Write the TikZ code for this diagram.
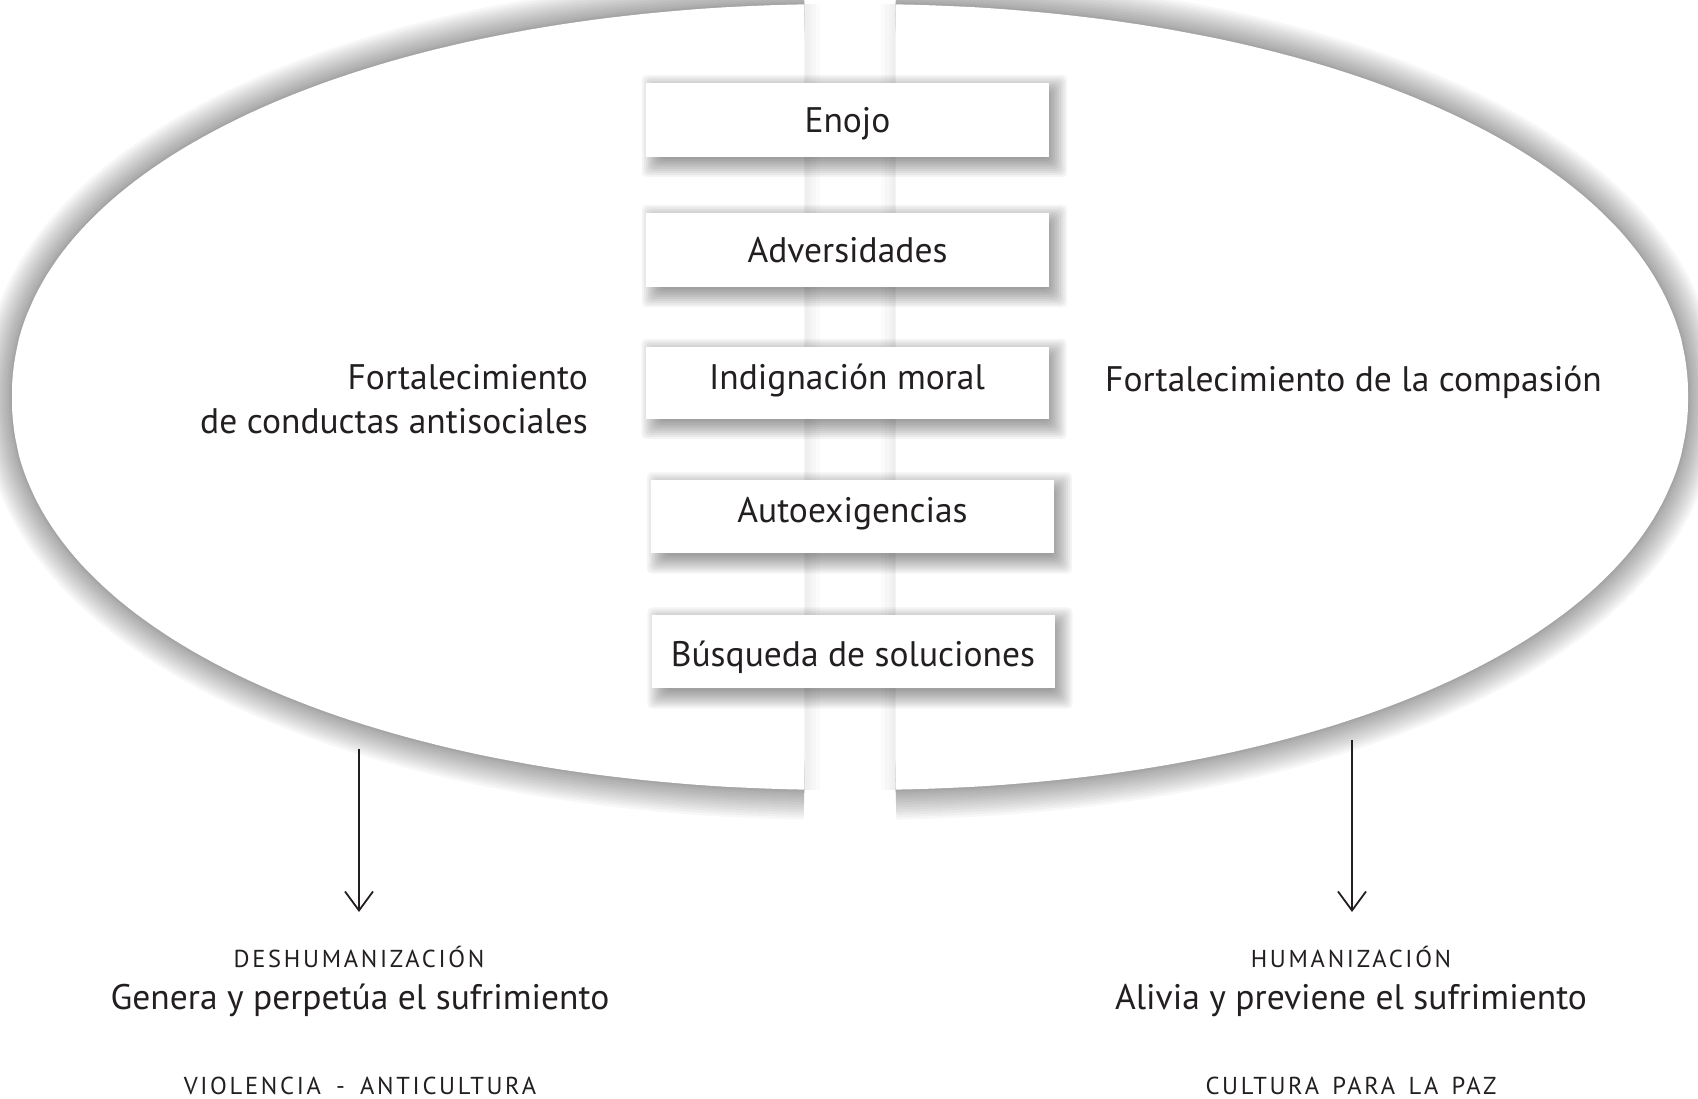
\documentclass[tikz,border=0pt]{standalone}
\usepackage{fontspec}
\setmainfont{PT Sans}
\usetikzlibrary{arrows.meta,calc}
\definecolor{ink}{HTML}{231F20}
\pgfdeclarelayer{bgl}
\pgfdeclarelayer{shl}
\pgfsetlayers{bgl,shl,main}
\begin{document}
\begin{tikzpicture}[x=1pt,y=1pt,
  every node/.style={text=ink, inner sep=0pt},
  card/.style={fill=white, minimum width=403pt, minimum height=74pt,
    font=\fontsize{35.5}{42}\selectfont, text height=30pt, text depth=4pt},
  bigtxt/.style={font=\fontsize{35.5}{42}\selectfont, anchor=base},
  captxt/.style={font=\fontsize{24.5}{30}\selectfont\addfontfeatures{LetterSpace=11}, anchor=base},
  arr/.style={draw=ink, line width=1.8pt, -{Straight Barb[length=19pt,width=28pt,line width=1.8pt]}},
  glow/.style={draw=black, opacity=0.032, line cap=butt, line join=round},
  sideglow/.style={draw=black, opacity=0.015, line cap=butt}
]
\useasboundingbox (0,0) rectangle (1698,1099);

\begin{pgfonlayer}{bgl}
\fill[white] (0,0) rectangle (1698,1099);
% glow of the two halves
\foreach \w in {60,55,50,45,40,35,30,25,20,15,10,6,3} {
  \draw[glow, line width=\w pt] plot[domain=92.69:267.31, samples=150, variable=\t]
    ({850+838*sign(cos(\t))*(abs(cos(\t))+0.0001)^0.952},
     {702+393*sign(sin(\t))*(abs(sin(\t))+0.0001)^0.952});
  \draw[glow, line width=\w pt] plot[domain=-87.31:87.31, samples=150, variable=\t]
    ({850+838*sign(cos(\t))*(abs(cos(\t))+0.0001)^0.952},
     {702+393*sign(sin(\t))*(abs(sin(\t))+0.0001)^0.952});
}
\foreach \w in {30,22,14,8} {
  \draw[sideglow, line width=\w pt] (804.5,1094.6) -- (804.5,309.4);
  \draw[sideglow, line width=\w pt] (895.5,1094.6) -- (895.5,309.4);
}
\fill[white] plot[domain=92.69:267.31, samples=150, variable=\t]
    ({850+838*sign(cos(\t))*(abs(cos(\t))+0.0001)^0.952},
     {702+393*sign(sin(\t))*(abs(sin(\t))+0.0001)^0.952}) -- cycle;
\fill[white] plot[domain=-87.31:87.31, samples=150, variable=\t]
    ({850+838*sign(cos(\t))*(abs(cos(\t))+0.0001)^0.952},
     {702+393*sign(sin(\t))*(abs(sin(\t))+0.0001)^0.952}) -- cycle;
\end{pgfonlayer}

% cards
\node[card] (b1) at (847.5,979) {Enojo};
\node[card] (b2) at (847.5,849) {Adversidades};
\node[card, minimum height=72pt, text height=18pt] (b3) at (847,716) {Indignación moral};
\node[card, minimum height=73pt, text height=16pt] (b4) at (852.5,582) {Autoexigencias};
\node[card, minimum height=73pt, text height=34pt] (b5) at (853,447) {Búsqueda de soluciones};

\begin{pgfonlayer}{shl}
\foreach \b in {b1,b2,b3,b4,b5} {
  \foreach \e in {-4,-2,...,14} {
    \fill[black, opacity=0.045, rounded corners=5pt]
      ($(\b.south west)+(10-\e,-6-\e)$) rectangle ($(\b.north east)+(4+\e,-6+\e)$);
  }
}
\end{pgfonlayer}

% side texts
\node[bigtxt, anchor=base east] (fl1) at (588,709) {Fortalecimiento};
\node[bigtxt, anchor=base east] (fl2) at (588,665) {de conductas antisociales};
\node[bigtxt, anchor=base west] (fr) at (1105,707) {Fortalecimiento de la compasión};

% arrows
\coordinate (la) at (359,350);
\coordinate (lb) at (359,187);
\coordinate (ra) at (1352,359);
\coordinate (rb) at (1352,187);
\draw[arr] (la) -- (lb);
\draw[arr] (ra) -- (rb);

% bottom texts
\node[captxt] (dh) at (359,131) {DESHUMANIZACIÓN};
\node[bigtxt] (gp) at (360,89) {Genera y perpetúa el sufrimiento};
\node[captxt] (vi) at (360,4) {VIOLENCIA\hspace{6pt} - \hspace{6pt}ANTICULTURA};
\node[captxt] (hu) at (1351,131) {HUMANIZACIÓN};
\node[bigtxt] (av) at (1351,89) {Alivia y previene el sufrimiento};
\node[captxt] (cp) at (1351,4) {CULTURA\hspace{4pt} PARA\hspace{4pt} LA\hspace{4pt} PAZ};
\end{tikzpicture}
\end{document}
